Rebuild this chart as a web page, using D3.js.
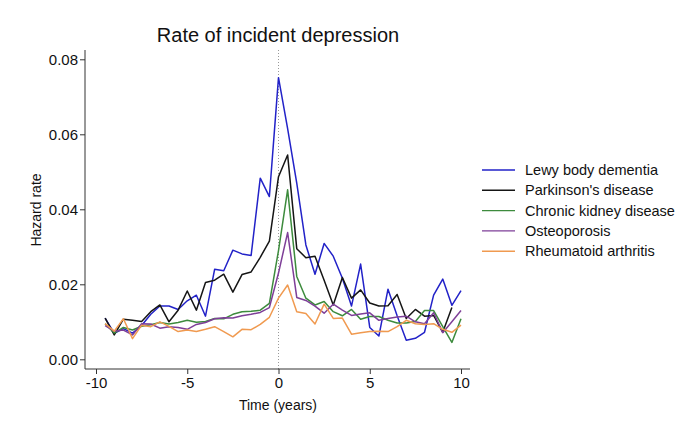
<!DOCTYPE html>
<html>
<head>
<meta charset="utf-8">
<script src="https://cdn.jsdelivr.net/npm/d3@7"></script>
<style>
  body { margin: 0; background: #fff; }
  svg { font-family: "Liberation Sans", Arial, Helvetica, sans-serif; }
</style>
</head>
<body>
<svg id="chart" width="700" height="423"></svg>
<script>
const times = [-9.5,-9,-8.5,-8,-7.5,-7,-6.5,-6,-5.5,-5,-4.5,-4,-3.5,-3,-2.5,-2,-1.5,-1,-0.5,0,0.5,1,1.5,2,2.5,3,3.5,4,4.5,5,5.5,6,6.5,7,7.5,8,8.5,9,9.5,10];

const lewy = [0.0110,0.0069,0.0082,0.0070,0.0090,0.0120,0.0142,0.0142,0.0133,0.0156,0.0171,0.0115,0.0240,0.0236,0.0291,0.0281,0.0277,0.0483,0.0434,0.0751,0.0615,0.0470,0.0305,0.0227,0.0309,0.0275,0.0216,0.0142,0.0254,0.0085,0.0062,0.0187,0.0116,0.0051,0.0056,0.0072,0.0171,0.0214,0.0144,0.0183];
const parkinsons = [0.0110,0.0065,0.0107,0.0104,0.0101,0.0127,0.0145,0.0100,0.0131,0.0182,0.0131,0.0205,0.0211,0.0227,0.0179,0.0226,0.0233,0.0272,0.0315,0.0487,0.0545,0.0295,0.0271,0.0275,0.0211,0.0145,0.0218,0.0163,0.0185,0.0150,0.0142,0.0143,0.0173,0.0109,0.0133,0.0115,0.0117,0.0072,0.0138,null];
const ckd = [0.0095,0.0070,0.0085,0.0078,0.0088,0.0092,0.0098,0.0094,0.0098,0.0104,0.0099,0.0101,0.0109,0.0108,0.0120,0.0127,0.0128,0.0131,0.0149,0.0290,0.0452,0.0221,0.0163,0.0145,0.0154,0.0127,0.0116,0.0133,0.0107,0.0114,0.0114,0.0104,0.0097,0.0097,0.0101,0.0130,0.0130,0.0087,0.0045,0.0108];
const osteo = [0.0090,0.0075,0.0078,0.0065,0.0095,0.0094,0.0083,0.0087,0.0085,0.0080,0.0093,0.0098,0.0108,0.0111,0.0110,0.0116,0.0120,0.0125,0.0138,0.0230,0.0338,0.0165,0.0157,0.0142,0.0123,0.0147,0.0131,0.0117,0.0121,0.0124,0.0104,0.0109,0.0113,0.0115,0.0100,0.0095,0.0124,0.0071,0.0100,0.0130];
const ra = [0.0095,0.0075,0.0108,0.0055,0.0091,0.0087,0.0100,0.0088,0.0074,0.0078,0.0074,0.0080,0.0087,0.0074,0.0060,0.0080,0.0079,0.0093,0.0112,0.0163,0.0198,0.0127,0.0122,0.0094,0.0147,0.0109,0.0110,0.0067,0.0071,0.0074,0.0075,0.0074,0.0087,0.0104,0.0095,0.0093,0.0095,0.0080,0.0072,0.0091];

const seriesNames = ["Lewy body dementia","Parkinson's disease","Chronic kidney disease","Osteoporosis","Rheumatoid arthritis"];
const seriesValues = [lewy, parkinsons, ckd, osteo, ra];
const seriesColors = ["#2222c8","#151515","#3d8b3d","#7e3f98","#f09a50"];

const xTicks = [-10,-5,0,5,10];
const yTicks = [0,0.02,0.04,0.06,0.08];

const titleText = "Rate of incident depression";
const xTitle = "Time (years)";
const yTitle = "Hazard rate";

const svg = d3.select("#chart");

const x = d3.scaleLinear().domain([-10,10]).range([96,461]);
const y = d3.scaleLinear().domain([0,0.08]).range([359.3,59.3]);

const plotLeft = 85, plotRight = 470, plotTop = 50, plotBottom = 369;

// reference line at 0
svg.append("line")
  .attr("x1", x(0)).attr("x2", x(0))
  .attr("y1", plotTop).attr("y2", plotBottom)
  .attr("stroke", "#999").attr("stroke-width", 1)
  .attr("stroke-dasharray", "1,2");

// lines
const line = d3.line()
  .defined(d => d[1] !== null)
  .x(d => x(d[0]))
  .y(d => y(d[1]));

seriesValues.forEach((vals, i) => {
  svg.append("path")
    .datum(times.map((t, j) => [t, vals[j]]))
    .attr("fill", "none")
    .attr("stroke", seriesColors[i])
    .attr("stroke-width", 1.5)
    .attr("stroke-linejoin", "round")
    .attr("d", line);
});

// axes
const yAxis = d3.axisLeft(y).tickValues(yTicks).tickFormat(d3.format(".2f")).tickSize(5).tickSizeOuter(0);
const gy = svg.append("g").attr("transform", `translate(${plotLeft},0)`).call(yAxis);
gy.select(".domain").remove();
gy.append("line").attr("x1",0).attr("x2",0).attr("y1",plotTop).attr("y2",plotBottom).attr("stroke","#333");
gy.selectAll(".tick line").attr("stroke","#333");
gy.selectAll(".tick text").attr("font-size", 15).attr("fill","#111").attr("x",-7)
  .attr("font-family", '"Liberation Sans", Arial, sans-serif');

const xAxis = d3.axisBottom(x).tickValues(xTicks).tickFormat(d => String(d)).tickSize(5).tickSizeOuter(0);
const gx = svg.append("g").attr("transform", `translate(0,${plotBottom})`).call(xAxis);
gx.select(".domain").remove();
gx.append("line").attr("x1",plotLeft).attr("x2",plotRight).attr("y1",0).attr("y2",0).attr("stroke","#333");
gx.selectAll(".tick line").attr("stroke","#333");
gx.selectAll(".tick text").attr("font-size", 15).attr("fill","#111").attr("y",8)
  .attr("font-family", '"Liberation Sans", Arial, sans-serif');

// titles
svg.append("text").attr("x", 278).attr("y", 42).attr("text-anchor","middle")
  .attr("font-size", 20).attr("fill","#111").text(titleText);
svg.append("text").attr("x", 278).attr("y", 410).attr("text-anchor","middle")
  .attr("font-size", 14).attr("fill","#111").text(xTitle);
svg.append("text").attr("transform","translate(41,210) rotate(-90)").attr("text-anchor","middle")
  .attr("font-size", 14).attr("fill","#111").text(yTitle);

// legend
const legend = svg.append("g");
seriesNames.forEach((name, i) => {
  const ly = 170 + i * 20.3;
  legend.append("line").attr("x1", 482).attr("x2", 515).attr("y1", ly).attr("y2", ly)
    .attr("stroke", seriesColors[i]).attr("stroke-width", 1.4);
  legend.append("text").attr("x", 525).attr("y", ly + 5).attr("font-size", 14.5)
    .attr("fill","#111").text(name);
});
</script>
</body>
</html>
